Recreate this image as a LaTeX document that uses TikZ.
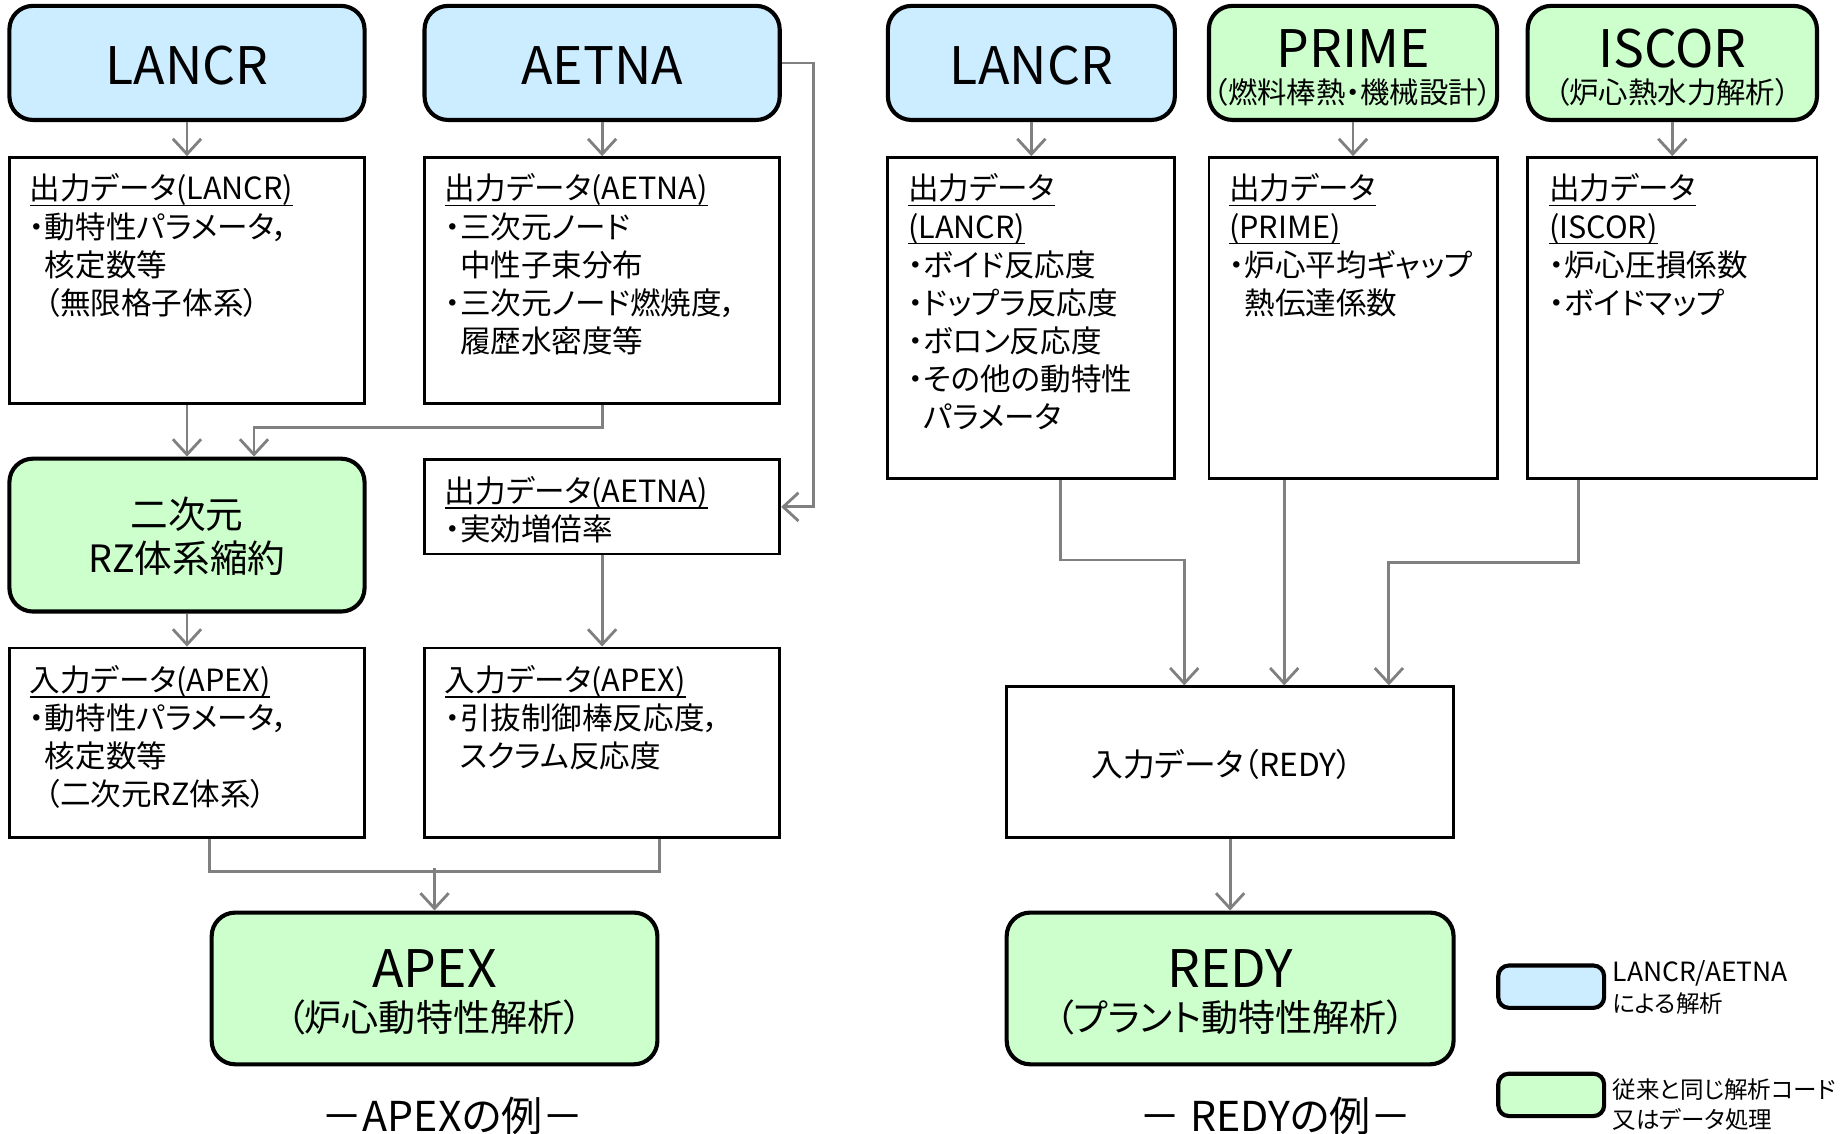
\documentclass[tikz,border=0pt]{standalone}
\usepackage{fontspec}
\setmainfont{Noto Sans CJK JP}[RawFeature={+palt}]
\usetikzlibrary{arrows.meta,calc}
\definecolor{lblue}{HTML}{CCECFF}
\definecolor{lgreen}{HTML}{CCFFCC}
\definecolor{cgray}{HTML}{808080}
\newcommand\myul[1]{\setbox0=\hbox{#1}\rlap{\rule[-5.5pt]{\wd0}{1.6pt}}\box0}
\newcommand\ph{\phantom{・}}
\begin{document}
\begin{tikzpicture}[x=1pt,y=-1pt,
  rbox/.style={draw=black,line width=3.5pt,rounded corners=20pt,inner sep=0pt},
  pbox/.style={draw=black,line width=2.4pt,inner sep=0pt,fill=white},
  conn/.style={draw=cgray,line width=2.4pt,-{Straight Barb[length=13pt,width=24pt]}},
  wire/.style={draw=cgray,line width=2.4pt},
  boxtxt/.style={anchor=base west,inner sep=0pt,font=\fontsize{26}{30}\selectfont},
  boxtxtc/.style={anchor=base,inner sep=0pt,font=\fontsize{27}{30}\selectfont},
  ttlbig/.style={anchor=base,inner sep=0pt,font=\fontsize{44}{50}\selectfont},
  ttlrz/.style={anchor=base,inner sep=0pt,font=\fontsize{32}{38}\selectfont},
  ttlmid/.style={anchor=base,inner sep=0pt,font=\fontsize{31.5}{36}\selectfont},
  ttlsub/.style={anchor=base,inner sep=0pt,font=\fontsize{25}{28}\selectfont},
  captxt/.style={anchor=base,inner sep=0pt,font=\fontsize{35}{40}\selectfont},
  legtxt/.style={anchor=base west,inner sep=0pt,font=\fontsize{20}{24}\selectfont},
  legtxtl/.style={anchor=base west,inner sep=0pt,font=\fontsize{22.5}{25}\selectfont},
]
\useasboundingbox (0,0) rectangle (1568,964);

% ---------- left half: boxes ----------
\node[rbox,fill=lblue,minimum width=302pt,minimum height=97pt] (lanA) at (159,53.5) {};
\node[rbox,fill=lblue,minimum width=302pt,minimum height=97pt] (aetA) at (512,53.5) {};
\node[pbox,minimum width=302pt,minimum height=209pt] (lanAO) at (159,238.5) {};
\node[pbox,minimum width=302pt,minimum height=209pt] (aetAO) at (512,238.5) {};
\node[rbox,fill=lgreen,minimum width=302pt,minimum height=130pt] (rz) at (159,455) {};
\node[pbox,minimum width=302pt,minimum height=80pt] (eff) at (512,431) {};
\node[pbox,minimum width=302pt,minimum height=161pt] (inL) at (159,631.5) {};
\node[pbox,minimum width=302pt,minimum height=161pt] (inR) at (512,631.5) {};
\node[rbox,fill=lgreen,minimum width=379pt,minimum height=129pt] (apex) at (369.5,840.5) {};

% ---------- right half: boxes ----------
\node[rbox,fill=lblue,minimum width=244pt,minimum height=97pt] (lanB) at (877,53.5) {};
\node[rbox,fill=lgreen,minimum width=245pt,minimum height=97pt] (prime) at (1150.5,53.5) {};
\node[rbox,fill=lgreen,minimum width=246pt,minimum height=97pt] (iscor) at (1422,53.5) {};
\node[pbox,minimum width=244pt,minimum height=273pt] (lanBO) at (877,270.5) {};
\node[pbox,minimum width=245pt,minimum height=273pt] (primeO) at (1150.5,270.5) {};
\node[pbox,minimum width=246pt,minimum height=273pt] (iscorO) at (1422,270.5) {};
\node[pbox,minimum width=380pt,minimum height=128pt] (redIn) at (1046,648) {};
\node[rbox,fill=lgreen,minimum width=380pt,minimum height=129pt] (redy) at (1046,840.5) {};
\node[rbox,rounded corners=9pt,fill=lblue,minimum width=90pt,minimum height=36pt] (legB) at (1319,839) {};
\node[rbox,rounded corners=9pt,fill=lgreen,minimum width=90pt,minimum height=36pt] (legG) at (1319,931) {};

% ---------- titles ----------
\node[ttlbig] (lanAt) at (159,72) {LANCR};
\node[ttlbig] (aetAt) at (512,72) {AETNA};
\node[ttlbig] (lanBt) at (877,72) {LANCR};
\node[ttlbig] (primet) at (1150.5,57) {PRIME};
\node[ttlsub] (primes) at (1150.5,88) {（燃料棒熱・機械設計）};
\node[ttlbig] (iscort) at (1422,57) {ISCOR};
\node[ttlsub] (iscors) at (1422,88) {（炉心熱水力解析）};
\node[ttlrz] (rz1) at (159,449) {二次元};
\node[ttlrz] (rz2) at (159,487) {RZ体系縮約};
\node[ttlbig] (apext) at (369.5,840) {APEX};
\node[ttlmid] (apexs) at (369.5,877) {（炉心動特性解析）};
\node[ttlbig] (redyt) at (1046,840) {REDY};
\node[ttlmid] (redys) at (1046,877) {（プラント動特性解析）};
\node[boxtxtc] (redInt) at (1039,660) {入力データ（REDY）};
\node[captxt] (capL) at (385,962) {－APEXの例－};
\node[captxt] (capR) at (1085,962) {－ REDYの例－};
\node[legtxtl] (legB1) at (1371,835) {LANCR/AETNA};
\node[legtxt] (legB2) at (1371,861) {による解析};
\node[legtxt] (legG1) at (1371,934) {従来と同じ解析コード};
\node[legtxt] (legG2) at (1371,960) {又はデータ処理};

% ---------- box texts ----------
\foreach \s [count=\i] in {{\myul{出力データ(LANCR)}},{・動特性パラメータ，},{\ph 核定数等},{\ph（無限格子体系）}}
  \node[boxtxt] (lanAO-\i) at (25,{170+32.4*(\i-1)}) {\s};
\foreach \s [count=\i] in {{\myul{出力データ(AETNA)}},{・三次元ノード},{\ph 中性子束分布},{・三次元ノード燃焼度，},{\ph 履歴水密度等}}
  \node[boxtxt] (aetAO-\i) at (378,{170+32.4*(\i-1)}) {\s};
\foreach \s [count=\i] in {{\myul{出力データ(AETNA)}},{・実効増倍率}}
  \node[boxtxt] (eff-\i) at (378,{427+32.4*(\i-1)}) {\s};
\foreach \s [count=\i] in {{\myul{入力データ(APEX)}},{・動特性パラメータ，},{\ph 核定数等},{\ph（二次元RZ体系）}}
  \node[boxtxt] (inL-\i) at (25,{588+32.4*(\i-1)}) {\s};
\foreach \s [count=\i] in {{\myul{入力データ(APEX)}},{・引抜制御棒反応度，},{\ph スクラム反応度}}
  \node[boxtxt] (inR-\i) at (378,{588+32.4*(\i-1)}) {\s};
\foreach \s [count=\i] in {{\myul{出力データ}},{\myul{(LANCR)}},{・ボイド反応度},{・ドップラ反応度},{・ボロン反応度},{・その他の動特性},{\ph パラメータ}}
  \node[boxtxt] (lanBO-\i) at (772,{170+32.4*(\i-1)}) {\s};
\foreach \s [count=\i] in {{\myul{出力データ}},{\myul{(PRIME)}},{・炉心平均ギャップ},{\ph 熱伝達係数}}
  \node[boxtxt] (primeO-\i) at (1045,{170+32.4*(\i-1)}) {\s};
\foreach \s [count=\i] in {{\myul{出力データ}},{\myul{(ISCOR)}},{・炉心圧損係数},{・ボイドマップ}}
  \node[boxtxt] (iscorO-\i) at (1317,{170+32.4*(\i-1)}) {\s};

% ---------- connectors: left ----------
\draw[conn] (lanA.south) -- (lanAO.north);
\draw[conn] (aetA.south) -- (aetAO.north);
\draw[conn] (lanAO.south) -- (rz.north);
\draw[conn] (aetAO.south) -- ++(0,19) -| ($(rz.north)+(57,0)$);
\draw[conn] (aetA.east) -- ++(27,0) |- (eff.east);
\draw[conn] (rz.south) -- (inL.north);
\draw[conn] (eff.south) -- (inR.north);
\draw[wire] (inL.south -| apex.west) |- ($(inR.south -| apex.east)+(0,28)$) -- (inR.south -| apex.east);
\draw[conn] ($(apex.north)+(0,-36)$) -- (apex.north);

% ---------- connectors: right ----------
\draw[conn] (lanB.south) -- (lanBO.north);
\draw[conn] (prime.south) -- (primeO.north);
\draw[conn] (iscor.south) -- (iscorO.north);
\draw[conn] ($(lanBO.south)+(25,0)$) -- ++(0,68) -| ($(redIn.north)+(-39,0)$);
\draw[conn] ($(primeO.south)+(-58.5,0)$) -- ($(redIn.north)+(46,0)$);
\draw[conn] ($(iscorO.south)+(-80,0)$) -- ++(0,70) -| ($(redIn.north)+(135,0)$);
\draw[conn] (redIn.south) -- (redy.north);
\end{tikzpicture}
\end{document}
